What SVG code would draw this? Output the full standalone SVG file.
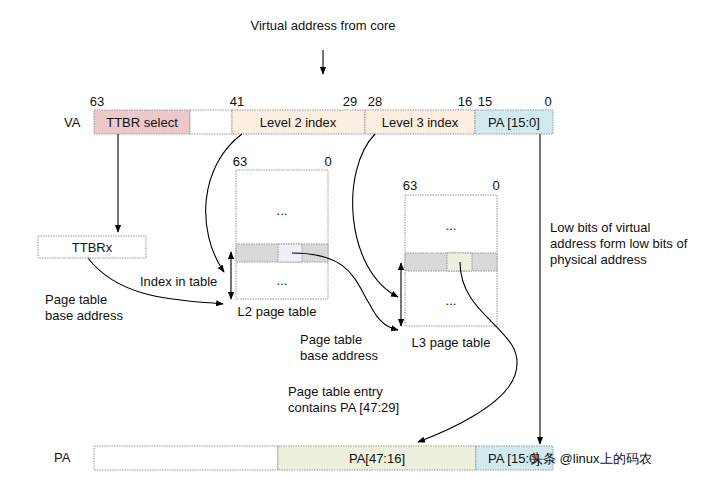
<svg xmlns="http://www.w3.org/2000/svg" width="719" height="478" viewBox="0 0 719 478">
<defs>
<marker id="a" viewBox="0 0 10 10" refX="9" refY="5" markerWidth="7" markerHeight="7" orient="auto-start-reverse"><path d="M0,1 L10,5 L0,9 z" fill="#000"/></marker>
<style>
text{font-family:"Liberation Sans",Arial,sans-serif;font-size:13px;fill:#111}
.c{text-anchor:middle}
.b{stroke:#999;stroke-width:1;stroke-dasharray:1.5 1}
.l{fill:none;stroke:#000;stroke-width:1.1}
</style>
</defs>
<rect width="719" height="478" fill="#fff"/>
<text x="323" y="30" class="c" font-size="14">Virtual address from core</text>
<g id="va">
<text x="64" y="127">VA</text>
<rect x="94" y="110" width="96" height="24" fill="#ebc8c9" class="b"/>
<rect x="190" y="110" width="42" height="24" fill="#fff" class="b"/>
<rect x="232" y="110" width="133" height="24" fill="#fdeee2" class="b"/>
<rect x="365" y="110" width="110" height="24" fill="#fdeee2" class="b"/>
<rect x="475" y="110" width="78" height="24" fill="#d1eaf2" class="b"/>
<text x="142" y="127" class="c" font-size="14">TTBR select</text>
<text x="298" y="127" class="c" font-size="14">Level 2 index</text>
<text x="420" y="127" class="c" font-size="14">Level 3 index</text>
<text x="514" y="127" class="c" font-size="14">PA [15:0]</text>
<text x="97" y="106" class="c">63</text><text x="237" y="106" class="c">41</text>
<text x="350" y="106" class="c">29</text><text x="375" y="106" class="c">28</text>
<text x="465" y="106" class="c">16</text><text x="485" y="106" class="c">15</text>
<text x="548" y="106" class="c">0</text>
</g>
<g id="ttbrx"><rect x="38" y="236" width="108" height="22" fill="#fff" class="b"/><text x="92" y="252" class="c">TTBRx</text></g>
<g id="l2">
<text x="240" y="166" class="c">63</text><text x="328" y="166" class="c">0</text>
<rect x="236" y="170" width="92" height="129" fill="#fff" class="b"/>
<rect x="236" y="244" width="92" height="18" fill="#d9d9d9" class="b"/>
<rect x="278" y="244" width="24" height="18" fill="#efeff5" class="b"/>
<text x="282" y="215" class="c">...</text><text x="282" y="285" class="c">...</text>
<text x="277" y="316" class="c">L2 page table</text>
</g>
<g id="l3">
<text x="410" y="190" class="c">63</text><text x="496" y="190" class="c">0</text>
<rect x="405" y="195" width="92" height="131" fill="#fff" class="b"/>
<rect x="405" y="253" width="92" height="18" fill="#d9d9d9" class="b"/>
<rect x="447" y="253" width="25" height="18" fill="#ecf0dd" class="b"/>
<text x="451" y="230" class="c">...</text><text x="451" y="305" class="c">...</text>
<text x="451" y="347" class="c">L3 page table</text>
</g>
<g id="pa">
<text x="54" y="462">PA</text>
<rect x="94" y="446" width="184" height="24" fill="#fff" class="b"/>
<rect x="278" y="446" width="198" height="24" fill="#ecf0dd" class="b"/>
<rect x="476" y="446" width="77" height="24" fill="#d1eaf2" class="b"/>
<text x="377" y="463" class="c" font-size="14">PA[47:16]</text>
<text x="514" y="463" class="c" font-size="14">PA [15:0]</text>
</g>
<g id="labels">
<text x="140" y="286">Index in table</text>
<text x="45" y="304">Page table</text><text x="45" y="320">base address</text>
<text x="300" y="344">Page table</text><text x="300" y="360">base address</text>
<text x="288" y="396">Page table entry</text><text x="288" y="412">contains PA [47:29]</text>
<text x="550" y="232">Low bits of virtual</text><text x="550" y="248">address form low bits of</text><text x="550" y="264">physical address</text>
<text x="530" y="463" font-family="'Noto Sans CJK SC',sans-serif" font-size="15" fill="#333">头条 @linux上的码农</text>
</g>
<g id="connectors">
<line x1="323" y1="50" x2="323" y2="74" class="l" marker-end="url(#a)"/>
<line x1="118" y1="134" x2="118" y2="232" class="l" marker-end="url(#a)"/>
<line x1="540" y1="134" x2="540" y2="444" class="l" marker-end="url(#a)"/>
<path d="M242,134 C200,165 195,230 224,272" class="l" marker-end="url(#a)"/>
<path d="M88,258 C120,300 180,300 223,304" class="l" marker-end="url(#a)"/>
<line x1="231" y1="252" x2="231" y2="299" class="l" marker-start="url(#a)" marker-end="url(#a)"/>
<path d="M375,134 C340,170 345,270 398,297" class="l" marker-end="url(#a)"/>
<path d="M292,253 C350,253 355,280 370,305 C380,325 390,328 398,330" class="l" marker-end="url(#a)"/>
<line x1="401" y1="263" x2="401" y2="326" class="l" marker-start="url(#a)" marker-end="url(#a)"/>
<path d="M460,262 C460,320 530,330 515,375 C505,405 450,430 418,442" class="l" marker-end="url(#a)"/>
</g>
</svg>
